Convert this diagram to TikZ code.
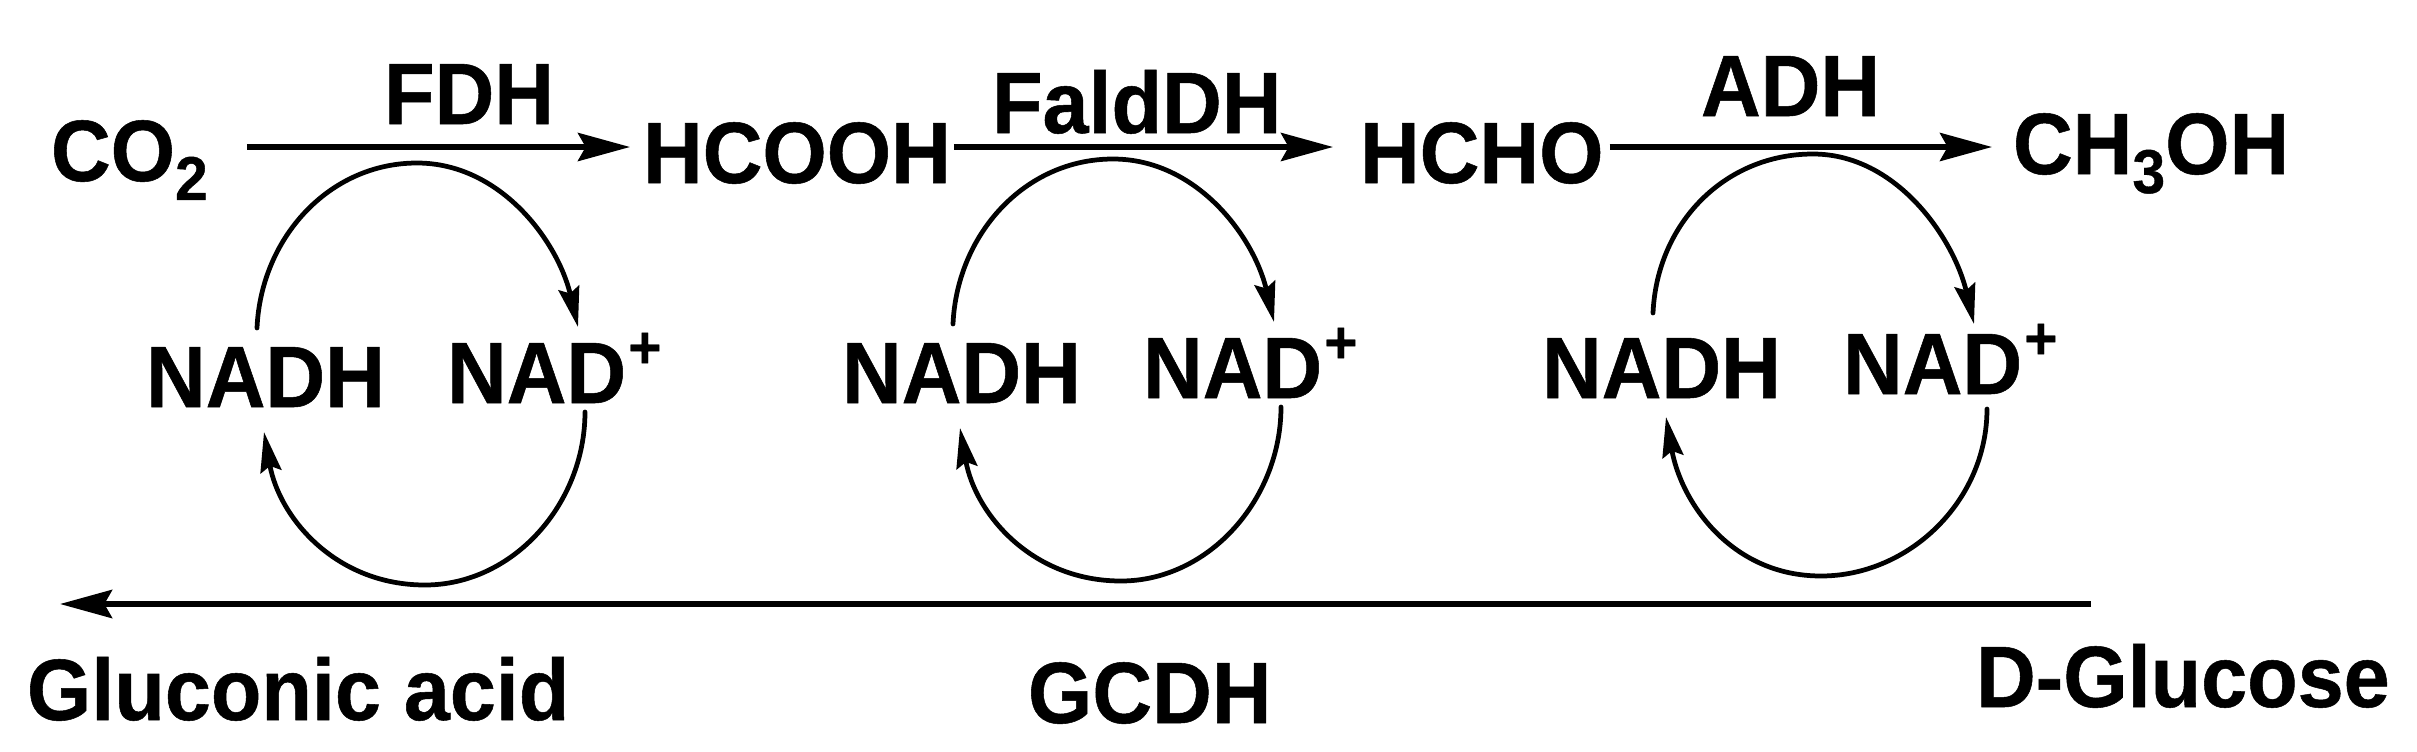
\documentclass[tikz,border=0pt]{standalone}
\usepackage{fontspec}
\setmainfont{Liberation Sans}[FakeStretch=0.95, BoldFeatures={FakeBold=0.6}]
\usetikzlibrary{arrows.meta,calc}

% small raised and lowered parts of the labels
\newcommand{\lowtwo}[1]{\raisebox{-5.4pt}{\fontsize{17.6pt}{17.6pt}\selectfont #1}}
\newcommand{\hiplus}{\kern.6pt\raisebox{10pt}{\fontsize{17pt}{17pt}\selectfont +}}

\begin{document}
\begin{tikzpicture}[x=0.01cm, y=-0.01cm,
        chem/.style = {font=\fontsize{24.76pt}{24.76pt}\selectfont\bfseries, inner sep=0pt, outer sep=0pt, anchor=base west},
        mainline/.style = {line width=1.5pt, -{Stealth[length=14.8pt, width=8pt, inset=2.2pt]}},
        loopline/.style = {line width=1.35pt, line cap=round, -{Stealth[length=11.4pt, width=6pt, inset=1.6pt]}}]
        \useasboundingbox (0,0) rectangle (2417,751);

        % top row
        \node[chem] (co2) at (51,181) {CO\lowtwo{2}};
        \node[chem] (hcooh) at (643,183) {HCOOH};
        \node[chem] (hcho) at (1360,183) {HCHO};
        \node[chem] (ch3oh) at (2013,174) {CH\lowtwo{3}OH};

        % enzymes over the arrows
        \node[chem] (fdh) at (384,124) {FDH};
        \node[chem] (falddh) at (992,133) {FaldDH};
        \node[chem] (adh) at (1701,116) {ADH};

        % arrows of the top row
        \coordinate (rowtop) at (0,147);
        \draw[mainline] ($(co2.east |- rowtop)+(39,0)$) -- ($(hcooh.west |- rowtop)+(-13,0)$);
        \draw[mainline] ($(hcooh.east |- rowtop)+(3,0)$) -- ($(hcho.west |- rowtop)+(-27,0)$);
        \draw[mainline] ($(hcho.east |- rowtop)+(6,0)$) -- ($(ch3oh.west |- rowtop)+(-21,0)$);

        % cofactor cycles
        \foreach \c/\x/\yh/\yd/\d in {A/146/407/403/0, B/842/403/398/0, C/1542/398/394/6}{
            \node[chem] (nadh\c) at (\x,\yh) {NADH};
            \node[chem] (nad\c) at (\x+301,\yd) {NAD\hiplus};
            \coordinate (top\c) at ($(nadh\c.base west)+(271,-244)$);
            \coordinate (low\c) at ($(nadh\c.base west)+(279,178)$);
            % upper half
            \draw[loopline] ($(nadh\c.base west)+(111,-79-\d)$)
                .. controls +(4,-90) and +(-88,0) .. (top\c)
                .. controls +(84,0) and +(-20,-85) .. ($(nad\c.base west)+(131,-76+\d)$);
            % lower half
            \draw[loopline] ($(nad\c.base west)+(138+\d,9+\d)$)
                .. controls +(0,92) and +(88,0) .. (low\c)
                .. controls +(-90,0) and +(15,85) .. ($(nadh\c.base west)+(118+\d,25-\d)$);
        }

        % bottom row
        \node[chem] (acid) at (27,720) {Gluconic acid};
        \node[chem] (gcdh) at (1028,723) {GCDH};
        \node[chem] (glucose) at (1976,707) {D-Glucose};

        % long arrow
        \coordinate (glucend) at (2091,604);
        \coordinate (acidend) at (60,604);
        \draw[mainline, line width=1.65pt] (glucend) -- (acidend);
\end{tikzpicture}
\end{document}
